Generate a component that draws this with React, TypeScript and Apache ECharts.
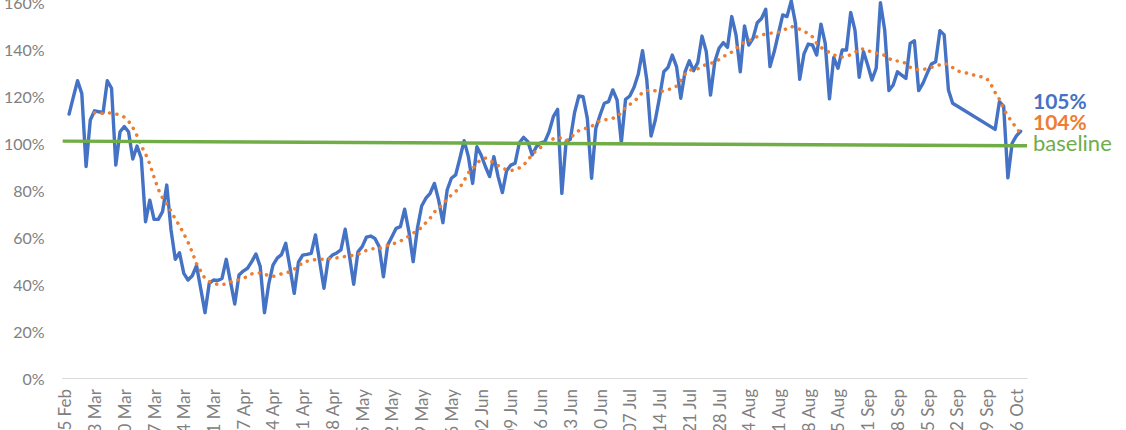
import React, { useEffect, useRef } from "react";
import * as echarts from "echarts";

// ---- data ----
const startDate = [2020, 1, 25]; // 25 Feb 2020
const dayCount = 227; // categories 25 Feb .. 08 Oct
const monthNames = ["Jan", "Feb", "Mar", "Apr", "May", "Jun", "Jul", "Aug", "Sep", "Oct", "Nov", "Dec"];

const categories: string[] = [];
for (let i = 0; i < dayCount; i++) {
  const d = new Date(Date.UTC(startDate[0], startDate[1], startDate[2]) + i * 86400000);
  const dd = String(d.getUTCDate()).padStart(2, "0");
  categories.push(`${dd} ${monthNames[d.getUTCMonth()]}`);
}

// daily ratio (%)
const dailyRatio: (number | null)[] = [
  null, 112.3, 119.5, 126.5, 121, 90, 109.8, 113.7, 113.3, 112.9,
  126.5, 123.3, 90.6, 104.8, 107, 104.8, 93.2, 98.7, 93.5, 66.5,
  75.7, 67.5, 67.5, 70.8, 82.1, 63, 50.5, 53.3, 44.5, 41.7,
  43.5, 47.8, 38, 27.8, 40.3, 41.7, 41.5, 42.4, 50.5, 41,
  31.5, 43.8, 45.5, 46.7, 49.5, 52.8, 47.4, 27.8, 40, 48,
  51, 52.5, 57.3, 47, 36, 49.3, 52.3, 52.6, 53, 60.9,
  49.5, 38.2, 50.5, 52.3, 53.2, 54.5, 63.3, 52, 39.9, 53.7,
  55.9, 59.9, 60.4, 59.4, 55.9, 43.1, 56.6, 60.1, 63.7, 64.4,
  71.8, 62.3, 49.5, 63.7, 73.2, 76.5, 78.6, 82.8, 75.7, 66.1,
  80, 85, 86.4, 93.5, 101, 94.2, 82.8, 98.4, 94.9, 90,
  85.7, 94.2, 85.7, 78.9, 88.2, 90.6, 91.4, 100.1, 102.4, 100.6,
  94.9, 98.4, 100.1, 100.6, 104.8, 111.2, 114.3, 78.6, 100.6, 101.6,
  113, 120, 119.7, 110.5, 85, 106.3, 111.9, 116.9, 117.6, 122.6,
  118.3, 100.1, 118.6, 120, 123.7, 129.4, 139.3, 126.8, 103, 109.8,
  119.4, 130.3, 132.2, 137.4, 132.5, 119, 130.3, 135, 130.8, 134.2,
  145.5, 138.9, 120.4, 134.6, 140.3, 142.7, 140.7, 153.8, 146, 130.3,
  149.8, 141.7, 144.5, 151.2, 153, 156.9, 132.5, 138.9, 146.7, 154.5,
  153.8, 160.5, 150.9, 127.1, 137.9, 142.1, 141.7, 137.4, 150.6, 142.4,
  118.8, 136.4, 131.8, 139.6, 139.6, 155.6, 148, 128, 138.9, 133.2,
  126.8, 131.8, 159.7, 148.1, 122.3, 124.7, 130.3, 128.9, 127.5, 142.4,
  143.5, 122.3, 125.4, 129.6, 133.6, 134.6, 147.8, 146, 122.6, 116.9,
  null, null, null, null, null, null, null, null, null, 105.8,
  117.6, 115.7, 85.2, 99.9, 103, 105,
];

// rolling average (%)
const rollingAvg: (number | null)[] = [
  null, null, null, null, null, null, null, 112.9, 112.7, 112.6,
  112.8, 112.8, 112.4, 111.8, 111, 109.3, 106.6, 103.1, 98.8, 95.4,
  91, 85.5, 80.3, 76.6, 74, 71, 67.7, 64.8, 61.4, 57.8,
  53.5, 48.6, 45.5, 42.3, 41, 40.3, 39.8, 39.6, 40.2, 40.9,
  41.3, 41.8, 42.3, 43.3, 44.3, 44.6, 44.7, 44.2, 43.6, 43.2,
  43.8, 44.3, 44.7, 45.2, 46.3, 47.4, 49.3, 49.7, 50, 50.4,
  50.5, 50.6, 50.7, 50.9, 51.1, 51.4, 51.7, 52.1, 52.2, 52.6,
  53.4, 54.3, 55, 55, 55, 55.9, 56.4, 56.9, 57.5, 58.2,
  59.5, 60.3, 61.6, 62.9, 64, 66.1, 68, 70.6, 72.5, 73.7,
  76.4, 77.8, 79.4, 81.1, 84, 87.4, 88.9, 91.4, 93, 93.6,
  92.6, 91.5, 90.4, 89.3, 88.6, 88.2, 88.7, 89.4, 90.5, 92.8,
  94.9, 96.9, 98.1, 99.2, 100.7, 101.8, 102.3, 102.1, 101, 102.1,
  103.9, 105.3, 105.8, 106.5, 107.1, 108.3, 109.5, 109.8, 110.1, 110.5,
  111.3, 112.9, 115.2, 116.4, 117.8, 119.3, 121.7, 122.2, 122.6, 122.2,
  121.8, 122.2, 122.8, 123.1, 124.2, 126.6, 129.3, 131.1, 131.1, 131.6,
  132.7, 133.4, 133.9, 134.3, 135.5, 136.8, 137.7, 138.7, 140, 141.9,
  142.9, 143.4, 144.4, 145.3, 145.9, 146.4, 146.7, 146.9, 147.1, 147.9,
  148.7, 149.6, 149.1, 148.4, 147.6, 146.5, 145.2, 142.4, 140.7, 139.5,
  138.5, 137.5, 136.9, 136.6, 136.8, 137.6, 138.5, 140, 140, 139.5,
  138.5, 138.2, 137.9, 137.3, 136, 134.9, 134.9, 134.6, 133.9, 132.2,
  131.4, 131.2, 131.3, 131.6, 132.2, 132.8, 133.3, 133.9, 133.4, 132.1,
  130.7, 130.3, 129.9, 129.4, 128.9, 128.5, 128, 127.5, 125, 121.5,
  118.6, 114.5, 111.5, 108.8, 106.5, 104,
];

// baseline (%) at start and end of the axis
const baselineValues = [100.8, 98.8];
const baselineName = "baseline";

const yTicks = { min: 0, max: 180, interval: 20 };

const BLUE = "#4472C4";
const ORANGE = "#ED7D31";
const GREEN = "#70AD47";
const TICK_GREY = "#808080";

function lastValue(arr: (number | null)[]): number {
  for (let i = arr.length - 1; i >= 0; i--) if (arr[i] != null) return arr[i] as number;
  return 0;
}

export default function App() {
  const ref = useRef<HTMLDivElement>(null);
  useEffect(() => {
    if (!ref.current) return;
    const chart = echarts.init(ref.current, undefined, { renderer: "svg" });
    const font = "Lato";
    chart.setOption({
      animation: false,
      grid: {
        left: 62.7,
        top: 15,
        width: 964.3,
        height: 423,
        containLabel: false,
        outerBoundsMode: "none",
      },
      xAxis: [
        {
          type: "category",
          data: categories,
          boundaryGap: true,
          axisTick: { show: false },
          axisLine: { show: true, lineStyle: { color: "#d9d9d9", width: 1 } },
          axisLabel: {
            interval: 6,
            rotate: 90,
            margin: 11,
            color: TICK_GREY,
            fontFamily: font,
            fontSize: 17,
          },
          splitLine: { show: false },
        },
        {
          type: "value",
          min: 0,
          max: 1,
          show: false,
          position: "top",
        },
      ],
      yAxis: {
        type: "value",
        min: yTicks.min,
        max: yTicks.max,
        interval: yTicks.interval,
        axisLine: { show: false },
        axisTick: { show: false },
        splitLine: { show: false },
        axisLabel: {
          formatter: "{value}%",
          color: TICK_GREY,
          fontFamily: font,
          fontSize: 16,
          margin: 18,
          padding: [0, 0, 5, 0],
        },
      },
      series: [
        {
          type: "line",
          data: dailyRatio,
          connectNulls: true,
          showSymbol: false,
          symbol: "none",
          lineStyle: { color: BLUE, width: 3.4, join: "round", cap: "round" },
          z: 2,
        },
        {
          type: "line",
          data: rollingAvg,
          connectNulls: true,
          showSymbol: false,
          symbol: "none",
          lineStyle: { color: ORANGE, width: 3.5, type: [0.1, 7.4], cap: "round" },
          z: 3,
        },
        {
          type: "line",
          xAxisIndex: 1,
          data: [
            [0, baselineValues[0]],
            [1, baselineValues[1]],
          ],
          showSymbol: false,
          symbol: "none",
          lineStyle: { color: GREEN, width: 3.4 },
          z: 4,
        },
      ],
      graphic: [
        {
          type: "text",
          x: 1033,
          y: 160.5,
          style: {
            text: `${Math.round(lastValue(dailyRatio))}%`,
            fill: BLUE,
            font: `bold 21px ${font}`,
            align: "left",
            verticalAlign: "middle",
          },
        },
        {
          type: "text",
          x: 1033,
          y: 181.5,
          style: {
            text: `${Math.round(lastValue(rollingAvg))}%`,
            fill: ORANGE,
            font: `bold 21px ${font}`,
            align: "left",
            verticalAlign: "middle",
          },
        },
        {
          type: "text",
          x: 1033,
          y: 202.5,
          style: {
            text: baselineName,
            fill: GREEN,
            font: `22px ${font}`,
            align: "left",
            verticalAlign: "middle",
          },
        },
      ],
    });
    return () => chart.dispose();
  }, []);
  return (
    <div
      ref={ref}
      style={{ position: "fixed", left: 0, top: -60, width: 1126, height: 500, background: "#fff" }}
    />
  );
}
